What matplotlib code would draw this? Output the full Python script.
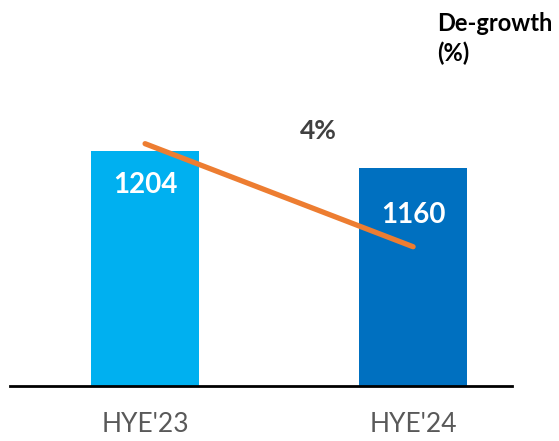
import numpy as np
import matplotlib.pyplot as plt

periods = ["HYE'23", "HYE'24"]
volumes = [1204, 1160]
index_line = [100.0, 96.3]
degrowth_label = "4%"
bar_colors = ['#00B0F0', '#0070C0']
label_drop = [87, 121]  # how far the value labels sit below the bar tops

plt.rcParams['font.family'] = ['Lato', 'DejaVu Sans']

fig = plt.figure(figsize=(5.59, 4.41), dpi=100)
ax = fig.add_axes([10/559, 1 - 386/441, 502/559, 376/441])

x = np.arange(len(periods))
ax.bar(x, volumes, width=0.403, color=bar_colors, zorder=2)
ax.set_xlim(-0.504, 1.369)
ax.set_ylim(600, 1566)

for xi, v, d in zip(x, volumes, label_drop):
    ax.text(xi, v - d, str(v), ha='center', va='center', color='white',
            fontsize=20, fontweight='bold', zorder=3)

ax.set_xticks(x)
ax.set_xticklabels(periods, fontsize=19, color='#595959')
ax.tick_params(axis='x', length=0, pad=19)
ax.set_yticks([])
for s in ['top', 'right', 'left']:
    ax.spines[s].set_visible(False)
ax.spines['bottom'].set_linewidth(2)
ax.spines['bottom'].set_color('black')

ax2 = ax.twinx()
ax2.plot(x, index_line, color='#ED7D31', linewidth=3.8, solid_capstyle='round', zorder=4)
ax2.set_ylim(91.3, 104.8)
ax2.set_yticks([])
for s in ['top', 'right', 'left', 'bottom']:
    ax2.spines[s].set_visible(False)

fig.text(318/559, 1 - 131/441, degrowth_label, ha='center', va='center',
         fontsize=19, fontweight='bold', color='#404040')
fig.text(437/559, 1 - 12/441, "De-growth\n(%)", ha='left', va='top',
         fontsize=17, fontweight='bold', color='black', linespacing=1.35)

fig.savefig('out.png', dpi=100)
